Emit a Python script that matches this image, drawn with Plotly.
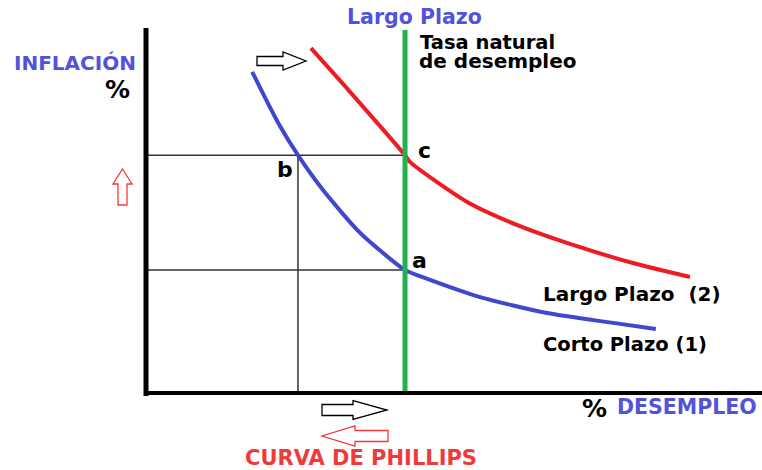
import plotly.graph_objects as go

# ---------------- data (units: % unemployment, % inflation) ----------------
natural_rate = 6.0
short_run_u = [2.46, 3.06, 3.52, 4.10, 4.89, 5.35, 6.00, 6.58, 7.74, 9.29, 10.82, 11.81]
short_run_pi = [7.83, 6.59, 5.80, 4.95, 3.98, 3.54, 3.00, 2.76, 2.34, 1.95, 1.71, 1.56]
long_run_u = [3.82, 4.73, 6.00, 6.12, 7.44, 8.59, 9.75, 11.28, 12.60]
long_run_pi = [8.41, 7.34, 5.80, 5.63, 4.66, 4.10, 3.66, 3.17, 2.83]
point_names = ["a", "b", "c"]
point_u = [6.00, 3.52, 6.00]
point_pi = [3.00, 5.80, 5.80]
label_short = "Corto Plazo (1)"
label_long = "Largo Plazo\u00a0\u00a0(2)"

W, H = 762, 470
KX, KY = 43.17, 41.0          # pixels per unit
OX, OY = 146, 393             # pixel position of the origin
X_RANGE = [-OX / KX, (W - OX) / KX]
Y_RANGE = [-(H - OY) / KY, OY / KY]

BLUE = "#3F48CC"
RED = "#ED1C24"
GREEN = "#22B14C"
TXT_BLUE = "#5252DA"
TXT_RED = "#F03A3A"
FONT = "DejaVu Sans"


def P(px, py):
    """pixel -> paper coordinates (for decorations)"""
    return px / W, 1 - py / H


fig = go.Figure()

# reference (dropped) lines
a_u, b_u, c_u = point_u
a_pi, b_pi, c_pi = point_pi
ref_style = dict(color="#333333", width=1.5)
fig.add_trace(go.Scatter(x=[0, c_u], y=[c_pi, c_pi], mode="lines", line=ref_style, hoverinfo="skip"))
fig.add_trace(go.Scatter(x=[0, a_u], y=[a_pi, a_pi], mode="lines", line=ref_style, hoverinfo="skip"))
fig.add_trace(go.Scatter(x=[b_u, b_u], y=[0, b_pi], mode="lines", line=ref_style, hoverinfo="skip"))

# Phillips curves
fig.add_trace(go.Scatter(x=short_run_u, y=short_run_pi, mode="lines",
                         line=dict(color=BLUE, width=4, shape="spline", smoothing=0.7),
                         name=label_short))
fig.add_trace(go.Scatter(x=long_run_u, y=long_run_pi, mode="lines",
                         line=dict(color=RED, width=4, shape="spline", smoothing=0.7),
                         name=label_long))

# natural rate (long run vertical)
fig.add_trace(go.Scatter(x=[natural_rate, natural_rate], y=[0, (OY - 30) / KY], mode="lines",
                         line=dict(color=GREEN, width=5), hoverinfo="skip"))

# axes
fig.add_trace(go.Scatter(x=[0, 0], y=[-3 / KY, (OY - 28) / KY], mode="lines",
                         line=dict(color="black", width=5), hoverinfo="skip"))
fig.add_trace(go.Scatter(x=[-2 / KX, X_RANGE[1]], y=[0, 0], mode="lines",
                         line=dict(color="black", width=4), hoverinfo="skip"))


# outline arrows (decorations, pixel based)
def h_arrow(x_tail, x_tip, x_head, yc, shaft, head, color):
    pts = [(x_tail, yc - shaft), (x_head, yc - shaft), (x_head, yc - head), (x_tip, yc),
           (x_head, yc + head), (x_head, yc + shaft), (x_tail, yc + shaft)]
    path = "M " + " L ".join(f"{P(x, y)[0]:.5f},{P(x, y)[1]:.5f}" for x, y in pts) + " Z"
    fig.add_shape(type="path", xref="paper", yref="paper", path=path,
                  line=dict(color=color, width=1.3), fillcolor="white")


def v_arrow(y_tail, y_tip, y_head, xc, shaft, head, color):
    pts = [(xc - shaft, y_tail), (xc - shaft, y_head), (xc - head, y_head), (xc, y_tip),
           (xc + head, y_head), (xc + shaft, y_head), (xc + shaft, y_tail)]
    path = "M " + " L ".join(f"{P(x, y)[0]:.5f},{P(x, y)[1]:.5f}" for x, y in pts) + " Z"
    fig.add_shape(type="path", xref="paper", yref="paper", path=path,
                  line=dict(color=color, width=1.3), fillcolor="white")


h_arrow(257, 306, 283, 61, 4.5, 9, "black")
v_arrow(205, 169, 184, 122.5, 4.5, 9.5, TXT_RED)
h_arrow(322, 387, 353, 410, 5.5, 9.5, "black")
h_arrow(388, 322, 355, 436, 5.5, 10, TXT_RED)


def txt(text, px, py, size=20, color="black", xanchor="center"):
    x, y = P(px, py)
    fig.add_annotation(text=text, x=x, y=y, xref="paper", yref="paper", showarrow=False,
                       xanchor=xanchor, yanchor="middle",
                       font=dict(family=FONT, size=size, color=color, weight="bold"))


txt("Largo Plazo", 415, 17, 20.5, TXT_BLUE)
txt("Tasa natural", 418, 42, 19.5, "black", "left")
txt("de desempleo", 417, 61, 20, "black", "left")
txt("INFLACIÓN", 138, 63, 20, TXT_BLUE, "right")
txt("%", 117, 89, 25, "black")
txt(label_long, 541, 294, 20, "black", "left")
txt(label_short, 541, 344, 19.5, "black", "left")
txt("%", 594, 408, 25, "black")
txt("DESEMPLEO", 615, 407, 20.5, TXT_BLUE, "left")
txt("CURVA DE PHILLIPS", 361, 458, 21, TXT_RED)

# point labels
offsets = {"a": (14, 10), "b": (-13, -14), "c": (19, 5)}
for n, u, pi in zip(point_names, point_u, point_pi):
    dx, dy = offsets[n]
    fig.add_annotation(text=n, x=u, y=pi, xref="x", yref="y", showarrow=False,
                       xshift=dx, yshift=dy,
                       font=dict(family=FONT, size=22, color="black", weight="bold"))

fig.update_layout(
    width=W, height=H, margin=dict(l=0, r=0, t=0, b=0),
    paper_bgcolor="white", plot_bgcolor="white", showlegend=False,
    xaxis=dict(range=X_RANGE, visible=False, fixedrange=True),
    yaxis=dict(range=Y_RANGE, visible=False, fixedrange=True),
)

fig.write_html("out.html", config={"displayModeBar": False},
               post_script="document.body.style.margin='0px';")
